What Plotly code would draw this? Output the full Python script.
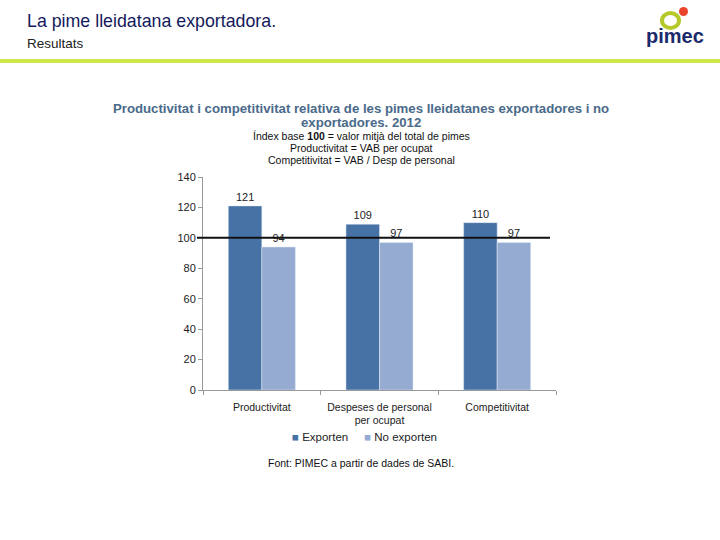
import plotly.graph_objects as go

categories = ["Productivitat", "Despeses de personal<br>per ocupat", "Competitivitat"]
exporten = [121, 109, 110]
no_exporten = [94, 97, 97]
y_ticks = [0, 20, 40, 60, 80, 100, 120, 140]
series_names = ["Exporten", "No exporten"]
series_colors = ["#4772a6", "#95abd2"]

W, H = 720, 540
L, R, T, B = 203, 556, 177, 390

def px(x):
    return (x - L) / (R - L)

def py(y):
    return (B - y) / (B - T)

FONT = "Liberation Sans, Arial, sans-serif"

fig = go.Figure()
for name, vals, col in zip(series_names, [exporten, no_exporten], series_colors):
    fig.add_trace(go.Bar(name=name, x=categories, y=vals, marker_color=col,
                         text=vals, textposition="outside", textfont=dict(size=11, color="#222"),
                         cliponaxis=False, hoverinfo="skip"))

fig.update_layout(
    width=W, height=H, autosize=False,
    margin=dict(l=L, r=W - R, t=T, b=H - B),
    paper_bgcolor="white", plot_bgcolor="white",
    barmode="group", bargap=0.43, bargroupgap=0,
    font=dict(family=FONT, size=11, color="#222"),
    showlegend=False,
    xaxis=dict(showline=True, linecolor="#999", linewidth=1, ticks="outside", tickson="boundaries",
               tickcolor="#999", ticklen=4, tickangle=0, ticklabelstandoff=7,
               tickfont=dict(size=10.5, color="#222"), showgrid=False),
    yaxis=dict(range=[0, 140], tickvals=y_ticks, showline=True, linecolor="#999", linewidth=1,
               ticks="outside", tickcolor="#999", ticklen=4, showgrid=False, zeroline=False,
               tickfont=dict(size=11, color="#222")),
)

# legend drawn as text
fig.add_annotation(xref="paper", yref="paper", x=px(290), y=py(437), xanchor="left", yanchor="middle",
                   text=(f'<span style="color:{series_colors[0]}">■</span> {series_names[0]}'
                         f'&nbsp;&nbsp;&nbsp;&nbsp;&nbsp;<span style="color:{series_colors[1]}">■</span> {series_names[1]}'),
                   showarrow=False, font=dict(family=FONT, size=11.5, color="#222"))

# reference line at 100
fig.add_shape(type="line", xref="paper", yref="y", x0=px(197), x1=px(550), y0=100, y1=100,
              line=dict(color="#111", width=2))

# header
fig.add_annotation(xref="paper", yref="paper", x=px(25), y=py(21), xanchor="left", yanchor="middle",
                   text="La pime lleidatana exportadora.", showarrow=False,
                   font=dict(family=FONT, size=17.8, color="#141a5c"))
fig.add_annotation(xref="paper", yref="paper", x=px(25), y=py(43), xanchor="left", yanchor="middle",
                   text="Resultats", showarrow=False, font=dict(family=FONT, size=13.5, color="#222"))
fig.add_shape(type="line", xref="paper", yref="paper", x0=px(0), x1=px(720), y0=py(61), y1=py(61),
              line=dict(color="#cfe64a", width=4))

# logo
fig.add_shape(type="circle", xref="paper", yref="paper", x0=px(662), x1=px(679), y0=py(28), y1=py(13),
              line=dict(color="#b7c92a", width=4), fillcolor="rgba(0,0,0,0)")
fig.add_shape(type="circle", xref="paper", yref="paper", x0=px(679), x1=px(688), y0=py(16), y1=py(7),
              line=dict(color="#e8452c", width=0), fillcolor="#e8452c")
fig.add_annotation(xref="paper", yref="paper", x=px(675), y=py(36), xanchor="center", yanchor="middle",
                   text="<b>pimec</b>", showarrow=False, font=dict(family=FONT, size=20, color="#1a2a6c"))

# chart titles
tcol = "#4a6a8a"
fig.add_annotation(xref="paper", yref="paper", x=px(361), y=py(108), xanchor="center", yanchor="middle",
                   text="<b>Productivitat i competitivitat relativa de les pimes lleidatanes exportadores i no</b>",
                   showarrow=False, font=dict(family=FONT, size=13.2, color=tcol))
fig.add_annotation(xref="paper", yref="paper", x=px(361), y=py(122), xanchor="center", yanchor="middle",
                   text="<b>exportadores. 2012</b>", showarrow=False, font=dict(family=FONT, size=13.2, color=tcol))
subs = ["Índex base <b>100</b> = valor mitjà del total de pimes",
        "Productivitat = VAB per ocupat",
        "Competitivitat = VAB / Desp de personal"]
for i, s in enumerate(subs):
    fig.add_annotation(xref="paper", yref="paper", x=px(361), y=py(136 + 12 * i), xanchor="center",
                       yanchor="middle", text=s, showarrow=False, font=dict(family=FONT, size=10.5, color="#111"))

fig.add_annotation(xref="paper", yref="paper", x=px(361), y=py(463), xanchor="center", yanchor="middle",
                   text="Font: PIMEC a partir de dades de SABI.", showarrow=False,
                   font=dict(family=FONT, size=10.5, color="#111"))

fig.write_html("out.html", config={"displayModeBar": False, "staticPlot": True},
               post_script="document.body.style.margin='0';")
